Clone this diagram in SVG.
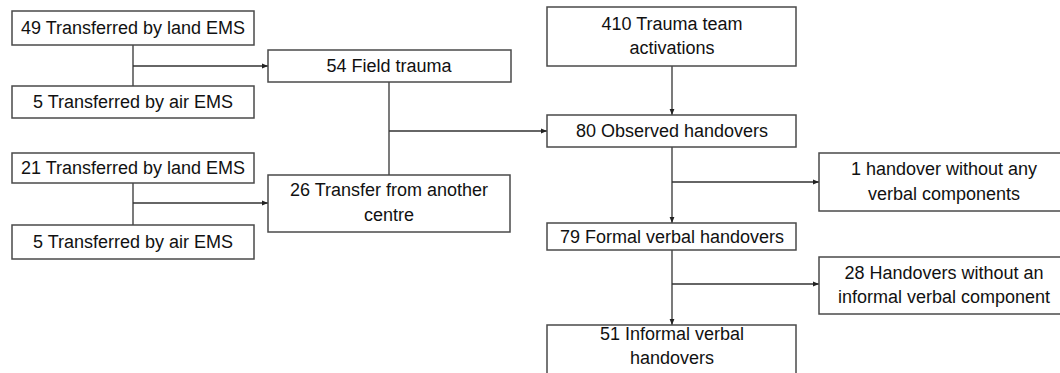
<svg xmlns="http://www.w3.org/2000/svg" width="1060" height="373" viewBox="0 0 1060 373">
<style>
.box{fill:#fff;stroke:#4a4a4a;stroke-width:1.5}
.t{font-family:"Liberation Sans",Arial,sans-serif;font-size:18px;fill:#111;text-anchor:middle;dominant-baseline:central}
.c{fill:none;stroke:#333;stroke-width:1.3}
</style>
<defs>
<marker id="ah" viewBox="0 0 10 10" refX="10" refY="5" markerWidth="6" markerHeight="6" markerUnits="userSpaceOnUse" orient="auto">
<path d="M0,1 L10,5 L0,9 Z" fill="#222"/>
</marker>
</defs>
<rect width="1060" height="373" fill="#fff"/>
<g id="connectors">
<path class="c" d="M133,45 V86"/>
<path class="c" d="M133,66 H268" marker-end="url(#ah)"/>
<path class="c" d="M133,183 V225"/>
<path class="c" d="M133,203 H268" marker-end="url(#ah)"/>
<path class="c" d="M389,82 V175"/>
<path class="c" d="M389,131 H547" marker-end="url(#ah)"/>
<path class="c" d="M672,66 V115" marker-end="url(#ah)"/>
<path class="c" d="M672,147 V223" marker-end="url(#ah)"/>
<path class="c" d="M672,182 H819" marker-end="url(#ah)"/>
<path class="c" d="M672,250 V325" marker-end="url(#ah)"/>
<path class="c" d="M672,284 H819" marker-end="url(#ah)"/>
</g>
<g id="n49land">
<rect class="box" x="12" y="11" width="242" height="34"/>
<text class="t" x="133" y="28">49 Transferred by land EMS</text>
</g>
<g id="n5air1">
<rect class="box" x="12" y="86" width="242" height="32"/>
<text class="t" x="133" y="102">5 Transferred by air EMS</text>
</g>
<g id="nfield">
<rect class="box" x="268" y="50" width="243" height="32"/>
<text class="t" x="389" y="66">54 Field trauma</text>
</g>
<g id="n21land">
<rect class="box" x="12" y="153" width="242" height="30"/>
<text class="t" x="133" y="168">21 Transferred by land EMS</text>
</g>
<g id="n5air2">
<rect class="box" x="12" y="225" width="242" height="34"/>
<text class="t" x="133" y="242">5 Transferred by air EMS</text>
</g>
<g id="ntransfer">
<rect class="box" x="268" y="175" width="242" height="57"/>
<text class="t" x="389" y="190">26 Transfer from another</text>
<text class="t" x="389" y="215">centre</text>
</g>
<g id="n410">
<rect class="box" x="547" y="7" width="249" height="59"/>
<text class="t" x="672" y="24">410 Trauma team</text>
<text class="t" x="672" y="48">activations</text>
</g>
<g id="n80">
<rect class="box" x="547" y="115" width="249" height="32"/>
<text class="t" x="672" y="131">80 Observed handovers</text>
</g>
<g id="n1">
<rect class="box" x="819" y="153" width="250" height="58"/>
<text class="t" x="944" y="169">1 handover without any</text>
<text class="t" x="944" y="194">verbal components</text>
</g>
<g id="n79">
<rect class="box" x="547" y="223" width="249" height="27"/>
<text class="t" x="672" y="237">79 Formal verbal handovers</text>
</g>
<g id="n28">
<rect class="box" x="819" y="257" width="250" height="57"/>
<text class="t" x="944" y="273">28 Handovers without an</text>
<text class="t" x="944" y="297">informal verbal component</text>
</g>
<g id="n51">
<rect class="box" x="547" y="325" width="249" height="60"/>
<text class="t" x="672" y="334">51 Informal verbal</text>
<text class="t" x="672" y="358">handovers</text>
</g>
</svg>
